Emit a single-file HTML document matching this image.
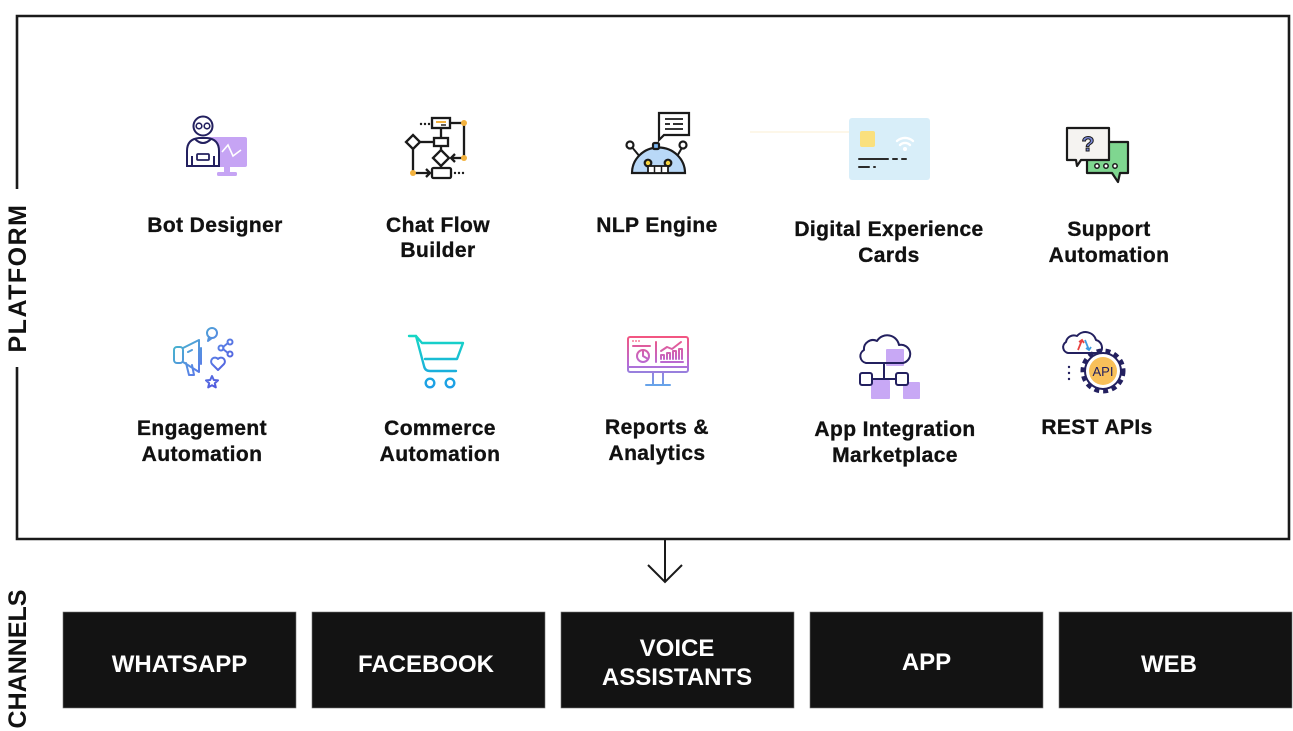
<!DOCTYPE html>
<html><head><meta charset="utf-8">
<style>
html,body{margin:0;padding:0;background:#fff;}
svg{display:block}
.lbl{font-family:"Liberation Sans",Arial,sans-serif;font-weight:bold;font-size:21px;fill:#111;letter-spacing:0.4px;stroke:#111;stroke-width:0.35px}
.ch{font-family:"Liberation Sans",Arial,sans-serif;font-weight:bold;font-size:24px;fill:#fff}
.side{font-family:"Liberation Sans",Arial,sans-serif;font-weight:bold;font-size:25px;fill:#111}
</style></head><body>
<svg width="1293" height="731" viewBox="0 0 1293 731" xmlns="http://www.w3.org/2000/svg">
<defs>
 <linearGradient id="gEng" gradientUnits="userSpaceOnUse" x1="172" y1="330" x2="236" y2="390">
  <stop offset="0" stop-color="#3fc6c4"/><stop offset="0.5" stop-color="#5a82e6"/><stop offset="1" stop-color="#4a3fd8"/>
 </linearGradient>
 <linearGradient id="gCart" gradientUnits="userSpaceOnUse" x1="0" y1="335" x2="0" y2="390">
  <stop offset="0" stop-color="#16d8c4"/><stop offset="1" stop-color="#1c9ae8"/>
 </linearGradient>
 <linearGradient id="gRep" gradientUnits="userSpaceOnUse" x1="0" y1="336" x2="0" y2="392">
  <stop offset="0" stop-color="#f4557f"/><stop offset="0.5" stop-color="#b76ad6"/><stop offset="1" stop-color="#4cb6f0"/>
 </linearGradient>
</defs>
<rect width="1293" height="731" fill="#fff"/>

<!-- frame -->
<path d="M17 189 V16 H1289 V539 H17 V367" fill="none" stroke="#1a1a1a" stroke-width="2.6"/>
<text class="side" transform="translate(26,278) rotate(-90)" text-anchor="middle" letter-spacing="1.5">PLATFORM</text>
<text class="side" transform="translate(26,659) rotate(-90)" text-anchor="middle">CHANNELS</text>

<!-- faint line -->
<line x1="750" y1="132" x2="850" y2="132" stroke="#fcf3dc" stroke-width="2" opacity="0.6"/>

<!-- Bot Designer icon -->
<g>
 <rect x="206" y="137" width="41" height="30" rx="2" fill="#c6a4f4"/>
 <rect x="224" y="167" width="6" height="5" fill="#c6a4f4"/>
 <rect x="217" y="172" width="20" height="4" rx="1.5" fill="#c6a4f4"/>
 <polyline points="222,152 228,145 233,156 241,150" fill="none" stroke="#fff" stroke-width="1.6"/>
 <path d="M187 166 V151 Q187 139 199 138 H207 Q219 139 219 151 V166 Z" fill="#fff" stroke="#23205f" stroke-width="2"/>
 <path d="M195 139 Q203 147 211 139" fill="none" stroke="#23205f" stroke-width="2"/>
 <path d="M192 166 V156 M214 166 V156" stroke="#23205f" stroke-width="2"/>
 <rect x="197" y="154" width="12" height="6" rx="1" fill="#fff" stroke="#23205f" stroke-width="1.8"/>
 <circle cx="203" cy="126" r="9.5" fill="#fff" stroke="#23205f" stroke-width="2"/>
 <circle cx="199" cy="126" r="2.8" fill="none" stroke="#23205f" stroke-width="1.6"/>
 <circle cx="207" cy="126" r="2.8" fill="none" stroke="#23205f" stroke-width="1.6"/>
</g>

<!-- Chat Flow icon -->
<g stroke="#1a1a1a" stroke-width="2.3" fill="none">
 <rect x="432" y="118" width="18" height="10" fill="#fff"/>
 <line x1="436" y1="122" x2="446" y2="122" stroke="#f3b23e" stroke-width="2"/>
 <line x1="441" y1="125" x2="446" y2="125" stroke-width="1.4"/>
 <line x1="450" y1="123" x2="464" y2="123"/>
 <line x1="464" y1="123" x2="464" y2="158"/>
 <line x1="464" y1="158" x2="451" y2="158"/>
 <polyline points="455,154 451,158 455,162"/>
 <line x1="441" y1="128" x2="441" y2="138"/>
 <rect x="434" y="138" width="14" height="8"/>
 <line x1="420" y1="142" x2="434" y2="142"/>
 <polygon points="413,135 420,142 413,149 406,142"/>
 <line x1="441" y1="146" x2="441" y2="150"/>
 <polygon points="441,150 449,158 441,166 433,158"/>
 <line x1="441" y1="166" x2="441" y2="168"/>
 <rect x="432" y="168" width="19" height="10" rx="1.5"/>
 <line x1="413" y1="149" x2="413" y2="173"/>
 <line x1="413" y1="173" x2="430" y2="173"/>
 <polyline points="426,169 430,173 426,177"/>
</g>
<g fill="#1a1a1a">
 <circle cx="421" cy="124" r="1.2"/><circle cx="425" cy="124" r="1.2"/><circle cx="429" cy="124" r="1.2"/>
 <circle cx="455" cy="173" r="1.2"/><circle cx="459" cy="173" r="1.2"/><circle cx="463" cy="173" r="1.2"/>
</g>
<g fill="#f3b23e">
 <circle cx="464" cy="123" r="3"/><circle cx="464" cy="158" r="3"/><circle cx="413" cy="173" r="3"/>
</g>

<!-- NLP icon -->
<g stroke="#1a1a1a" stroke-width="2.2">
 <path d="M659 113 H689 V135 H664 L659 140 Z" fill="#fff"/>
 <line x1="665" y1="119" x2="683" y2="119" stroke-width="1.8"/>
 <line x1="665" y1="124" x2="670" y2="124" stroke-width="1.8"/><line x1="673" y1="124" x2="683" y2="124" stroke-width="1.8"/>
 <line x1="665" y1="129" x2="683" y2="129" stroke-width="1.8"/>
 <line x1="631" y1="146" x2="641" y2="158" stroke-width="2"/>
 <line x1="683" y1="146" x2="676" y2="158" stroke-width="2"/>
 <circle cx="630" cy="145" r="3.5" fill="#fff"/>
 <circle cx="683" cy="145" r="3.5" fill="#fff"/>
 <path d="M632 173 A26 25 0 0 1 685 173 Z" fill="#b9d8f7"/>
 <rect x="653" y="143" width="6" height="6" rx="1.5" fill="#7ab5f0"/>
 <circle cx="648" cy="163" r="3.3" fill="#f5d33f"/>
 <circle cx="668" cy="163" r="3.3" fill="#f5d33f"/>
 <rect x="648" y="166" width="20" height="7" fill="#fff" stroke-width="1.8"/>
 <line x1="654.5" y1="166" x2="654.5" y2="173" stroke-width="1.5"/>
 <line x1="661.5" y1="166" x2="661.5" y2="173" stroke-width="1.5"/>
</g>

<!-- Digital Experience Card icon -->
<g>
 <rect x="849" y="118" width="81" height="62" rx="3" fill="#d8eef9"/>
 <rect x="860" y="131" width="15" height="16" rx="2" fill="#fae07e"/>
 <g fill="none" stroke="#fff" stroke-width="2.4" stroke-linecap="round">
  <path d="M897 141 A12 12 0 0 1 913 141"/>
  <path d="M900 145 A7 7 0 0 1 910 145"/>
 </g>
 <circle cx="905" cy="149" r="2" fill="#fff"/>
 <g stroke="#2b2b2b" stroke-width="2" stroke-linecap="round">
  <line x1="859" y1="159" x2="888" y2="159"/><line x1="893" y1="159" x2="897" y2="159"/><line x1="902" y1="159" x2="906" y2="159"/>
  <line x1="859" y1="167" x2="869" y2="167"/><line x1="874" y1="167" x2="875" y2="167"/>
 </g>
</g>

<!-- Support icon -->
<g stroke="#1a1a1a" stroke-width="2.2">
 <path d="M1087 142 H1128 V173 H1120 L1118 182 L1112 173 H1087 Z" fill="#7fd690" stroke-linejoin="round"/>
 <path d="M1067 128 H1109 V160 H1081 L1077 166 L1076 160 H1067 Z" fill="#f5f3f1" stroke-linejoin="round"/>
 <circle cx="1097" cy="166" r="2.2" fill="#fff" stroke-width="1.5"/>
 <circle cx="1106" cy="166" r="2.2" fill="#fff" stroke-width="1.5"/>
 <circle cx="1115" cy="166" r="2.2" fill="#fff" stroke-width="1.5"/>
</g>
<text x="1088" y="151" text-anchor="middle" font-family="Liberation Sans, sans-serif" font-weight="bold" font-size="21" fill="#7b88d8" stroke="#1a1a1a" stroke-width="1">?</text>

<!-- Engagement icon -->
<g fill="none" stroke="url(#gEng)" stroke-width="2" stroke-linejoin="round" stroke-linecap="round">
 <rect x="174" y="347" width="9" height="16" rx="3"/>
 <path d="M183 348 L199 340 V372 L183 362"/>
 <path d="M186 363 L189 375 H194 L192 365"/>
 <line x1="201" y1="348" x2="201" y2="364"/>
 <line x1="188" y1="352" x2="192" y2="350"/>
 <circle cx="212" cy="333" r="5"/>
 <path d="M209 337 L208 341 L212 338"/>
 <circle cx="221" cy="348" r="2.5"/><circle cx="230" cy="342" r="2.5"/><circle cx="230" cy="354" r="2.5"/>
 <line x1="223" y1="347" x2="228" y2="343"/><line x1="223" y1="349" x2="228" y2="353"/>
 <path d="M218 370 L212 364 A3.3 3.3 0 0 1 218 359 A3.3 3.3 0 0 1 224 364 Z"/>
 <path d="M212 376 L213.8 380 L218 380.4 L214.8 383.2 L215.8 387.4 L212 385.2 L208.2 387.4 L209.2 383.2 L206 380.4 L210.2 380 Z"/>
</g>

<!-- Cart icon -->
<g fill="none" stroke="url(#gCart)" stroke-width="2.4" stroke-linecap="round" stroke-linejoin="round">
 <path d="M409 336 H416 L422 343 H463 L457 359 H425"/>
 <path d="M416 336 L424 366 Q425 371 430 371 H456"/>
 <circle cx="430" cy="383" r="4.3"/>
 <circle cx="450" cy="383" r="4.3"/>
</g>

<!-- Reports icon -->
<g fill="none" stroke="url(#gRep)" stroke-width="2" stroke-linecap="round" stroke-linejoin="round">
 <rect x="628" y="337" width="60" height="35" rx="2"/>
 <line x1="628" y1="367" x2="688" y2="367"/>
 <path d="M653 372 V384 M663 372 V384"/>
 <line x1="646" y1="385" x2="670" y2="385"/>
 <line x1="656" y1="342" x2="656" y2="362"/>
 <circle cx="643" cy="356" r="6"/>
 <path d="M643 356 L643 350 M643 356 L648 359"/>
 <line x1="633" y1="346" x2="650" y2="346"/>
 <path d="M661 351 L667 347 L672 349 L681 342"/>
 <path d="M661 359 V355 H664 V359 M667 359 V353 H670 V359 M673 359 V351 H676 V359 M679 359 V349 H682 V359"/>
 <line x1="661" y1="362" x2="683" y2="362"/>
</g>
<g fill="#f4557f"><circle cx="633" cy="341" r="0.9"/><circle cx="636" cy="341" r="0.9"/><circle cx="639" cy="341" r="0.9"/></g>

<!-- App Integration icon -->
<g>
 <rect x="886" y="349" width="18" height="17" rx="1" fill="#c8a8f5"/>
 <rect x="871" y="380" width="19" height="19" rx="1" fill="#c8a8f5"/>
 <rect x="903" y="382" width="17" height="17" rx="1" fill="#c8a8f5"/>
 <g fill="none" stroke="#23205f" stroke-width="2" stroke-linejoin="round">
  <path d="M866 363 A7 7 0 0 1 864 350 A9 9 0 0 1 877 341 A12 12 0 0 1 899 345 A9 9 0 0 1 903 363 Z"/>
  <line x1="884" y1="363" x2="884" y2="379"/>
  <line x1="872" y1="379" x2="896" y2="379"/>
  <rect x="860" y="373" width="12" height="12" rx="2" fill="#fff"/>
  <rect x="896" y="373" width="12" height="12" rx="2" fill="#fff"/>
 </g>
</g>

<!-- REST APIs icon -->
<g>
 <path d="M1068 353 A6 6 0 0 1 1066 342 A8 8 0 0 1 1077 336 A11 11 0 0 1 1096 340 A8 8 0 0 1 1100 353 Z" fill="#fff" stroke="#23205f" stroke-width="2" stroke-linejoin="round"/>
 <path d="M1078 350 L1082 340 M1079 342 L1082 340 L1084 343" stroke="#e8423f" stroke-width="1.8" fill="none"/>
 <path d="M1085 340 L1089 350 M1086 348 L1089 350 L1091 347" stroke="#3e9be0" stroke-width="1.8" fill="none"/>
 <circle cx="1103" cy="371" r="20.5" fill="none" stroke="#23205f" stroke-width="4" stroke-dasharray="5 4"/>
 <circle cx="1103" cy="371" r="18" fill="#fff" stroke="#23205f" stroke-width="2"/>
 <circle cx="1103" cy="371" r="14" fill="#f8c05a"/>
 <text x="1103" y="376" text-anchor="middle" font-family="Liberation Sans, sans-serif" font-size="13" fill="#23205f">API</text>
 <g fill="#23205f"><circle cx="1069" cy="367" r="1.2"/><circle cx="1069" cy="373" r="1.2"/><circle cx="1069" cy="379" r="1.2"/></g>
</g>

<!-- Labels row 1 -->
<text class="lbl" x="215" y="232" text-anchor="middle">Bot Designer</text>
<text class="lbl" x="438" y="232" text-anchor="middle">Chat Flow</text>
<text class="lbl" x="438" y="257" text-anchor="middle">Builder</text>
<text class="lbl" x="657" y="232" text-anchor="middle">NLP Engine</text>
<text class="lbl" x="889" y="236" text-anchor="middle">Digital Experience</text>
<text class="lbl" x="889" y="262" text-anchor="middle">Cards</text>
<text class="lbl" x="1109" y="236" text-anchor="middle">Support</text>
<text class="lbl" x="1109" y="262" text-anchor="middle">Automation</text>

<!-- Labels row 2 -->
<text class="lbl" x="202" y="435" text-anchor="middle">Engagement</text>
<text class="lbl" x="202" y="461" text-anchor="middle">Automation</text>
<text class="lbl" x="440" y="435" text-anchor="middle">Commerce</text>
<text class="lbl" x="440" y="461" text-anchor="middle">Automation</text>
<text class="lbl" x="657" y="434" text-anchor="middle">Reports &amp;</text>
<text class="lbl" x="657" y="460" text-anchor="middle">Analytics</text>
<text class="lbl" x="895" y="436" text-anchor="middle">App Integration</text>
<text class="lbl" x="895" y="462" text-anchor="middle">Marketplace</text>
<text class="lbl" x="1097" y="434" text-anchor="middle">REST APIs</text>

<!-- Arrow -->
<line x1="665" y1="540" x2="665" y2="581" stroke="#1a1a1a" stroke-width="2"/>
<polyline points="648,565 665,582 682,565" fill="none" stroke="#1a1a1a" stroke-width="2"/>

<!-- Channel boxes -->
<g fill="#131313" stroke="#777" stroke-width="0.6">
 <rect x="63" y="612" width="233" height="96"/>
 <rect x="312" y="612" width="233" height="96"/>
 <rect x="561" y="612" width="233" height="96"/>
 <rect x="810" y="612" width="233" height="96"/>
 <rect x="1059" y="612" width="233" height="96"/>
</g>
<text class="ch" x="179.5" y="672" text-anchor="middle">WHATSAPP</text>
<text class="ch" x="426" y="672" text-anchor="middle">FACEBOOK</text>
<text class="ch" x="677" y="656" text-anchor="middle">VOICE</text>
<text class="ch" x="677" y="685" text-anchor="middle">ASSISTANTS</text>
<text class="ch" x="926.5" y="670" text-anchor="middle">APP</text>
<text class="ch" x="1169" y="672" text-anchor="middle">WEB</text>
</svg>
</body></html>
